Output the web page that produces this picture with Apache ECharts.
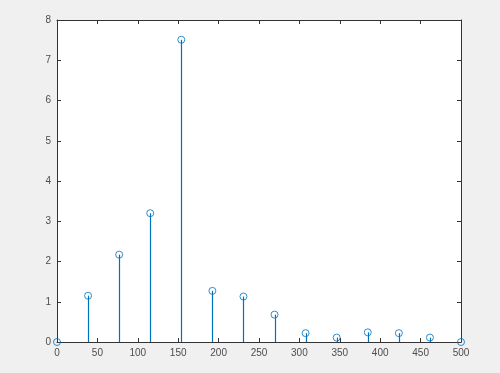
<!DOCTYPE html>
<html>
<head>
<meta charset="utf-8">
<script src="https://cdn.jsdelivr.net/npm/echarts@6/dist/echarts.min.js"></script>
<style>
html,body{margin:0;padding:0;background:#f0f0f0;}
#c{width:500px;height:373px;}
</style>
</head>
<body>
<div id="c"></div>
<script>
const xValues = [0, 38.46, 76.92, 115.38, 153.85, 192.31, 230.77, 269.23, 307.69, 346.15, 384.62, 423.08, 461.54, 500];
const yValues = [0, 1.15, 2.17, 3.2, 7.51, 1.27, 1.13, 0.68, 0.22, 0.11, 0.24, 0.22, 0.11, 0];
const xTicks = [0, 50, 100, 150, 200, 250, 300, 350, 400, 450, 500];
const yTicks = [0, 1, 2, 3, 4, 5, 6, 7, 8];

const pts = xValues.map((x, i) => [x, yValues[i]]);
const axisColor = '#333333';
const labelStyle = { color: '#4d4d4d', fontSize: 10, fontFamily: 'Liberation Sans, Arial, sans-serif' };

const chart = echarts.init(document.getElementById('c'), null, { renderer: 'canvas' });
function axisCommon(showLabel) {
  return {
    axisLine: { show: true, onZero: false, lineStyle: { color: axisColor, width: 1 } },
    axisTick: { show: true, inside: true, length: 4, lineStyle: { color: axisColor } },
    axisLabel: Object.assign({ show: showLabel, margin: 6 }, labelStyle),
    splitLine: { show: false }
  };
}
chart.setOption({
  backgroundColor: '#f0f0f0',
  animation: false,
  grid: { left: 57, right: 39, top: 20, bottom: 31, show: true, backgroundColor: '#ffffff', borderWidth: 0 },
  xAxis: [
    Object.assign({ type: 'value', position: 'bottom', min: xTicks[0], max: xTicks[xTicks.length - 1], interval: 50 }, axisCommon(true)),
    Object.assign({ type: 'value', position: 'top', min: xTicks[0], max: xTicks[xTicks.length - 1], interval: 50 }, axisCommon(false))
  ],
  yAxis: [
    Object.assign({ type: 'value', position: 'left', min: yTicks[0], max: yTicks[yTicks.length - 1], interval: 1 }, axisCommon(true)),
    Object.assign({ type: 'value', position: 'right', min: yTicks[0], max: yTicks[yTicks.length - 1], interval: 1 }, axisCommon(false))
  ],
  series: [
    {
      type: 'custom',
      xAxisIndex: 0, yAxisIndex: 0,
      data: pts,
      renderItem: function (params, api) {
        const top = api.coord([api.value(0), api.value(1)]);
        const base = api.coord([api.value(0), 0]);
        return {
          type: 'line',
          shape: { x1: Math.round(base[0]) + 0.5, y1: base[1], x2: Math.round(top[0]) + 0.5, y2: top[1] },
          style: { stroke: '#0072BD', lineWidth: 1.2 }
        };
      },
      silent: true
    },
    {
      type: 'scatter',
      xAxisIndex: 0, yAxisIndex: 0,
      data: pts,
      symbol: 'circle',
      symbolSize: 7,
      itemStyle: { color: 'rgba(0,0,0,0)', borderColor: '#0072BD', borderWidth: 1 },
      clip: false
    }
  ]
});
</script>
</body>
</html>
